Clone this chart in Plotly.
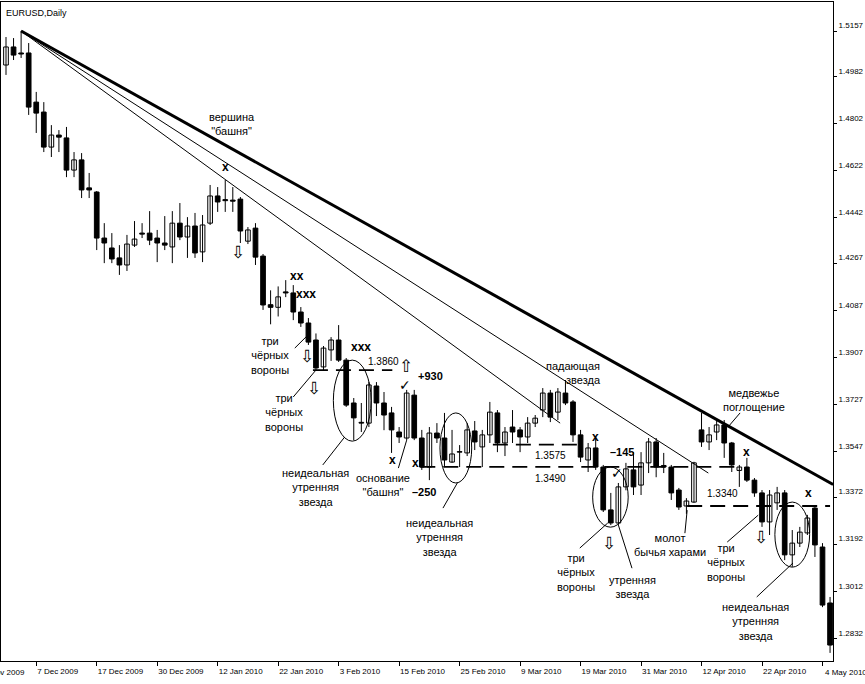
import plotly.graph_objects as go
import pandas as pd

# ---------------- data ----------------
holidays = ["2009-12-25", "2010-01-01"]
dates = [d for d in pd.bdate_range("2009-12-01", "2010-05-05")
         if d.strftime("%Y-%m-%d") not in holidays]

open_ = [1.5027, 1.5096, 1.5073, 1.5073, 1.4885, 1.4847, 1.4713, 1.4759, 1.4748, 1.4625,
         1.4664, 1.4557, 1.4541, 1.4365, 1.4327, 1.4289, 1.4262, 1.4338, 1.4384, 1.4384,
         1.4365, 1.4346, 1.4331, 1.4422, 1.4369, 1.4411, 1.4312, 1.4422, 1.4526, 1.4512,
         1.4510, 1.4514, 1.4353, 1.4403, 1.4296, 1.4110, 1.4100, 1.4159, 1.4155, 1.4082,
         1.4040, 1.3975, 1.3872, 1.3937, 1.3975, 1.3898, 1.3734, 1.3660, 1.3657, 1.3799,
         1.3734, 1.3696, 1.3623, 1.3600, 1.3764, 1.3600, 1.3489, 1.3619, 1.3600, 1.3508,
         1.3548, 1.3543, 1.3627, 1.3566, 1.3612, 1.3696, 1.3581, 1.3642, 1.3631, 1.3604,
         1.3657, 1.3707, 1.3772, 1.3699, 1.3772, 1.3738, 1.3612, 1.3516, 1.3562, 1.3489,
         1.3325, 1.3275, 1.3413, 1.3478, 1.3420, 1.3505, 1.3585, 1.3495, 1.3489, 1.3401,
         1.3340, 1.3355, 1.3631, 1.3585, 1.3623, 1.3650, 1.3581, 1.3476, 1.3489, 1.3439,
         1.3390, 1.3279, 1.3352, 1.3390, 1.3153, 1.3198, 1.3237, 1.3332, 1.3183, 1.2969]
high = [1.5134, 1.5130, 1.5157, 1.5111, 1.4924, 1.4885, 1.4797, 1.4778, 1.4790, 1.4694,
        1.4690, 1.4614, 1.4545, 1.4422, 1.4384, 1.4338, 1.4377, 1.4430, 1.4422, 1.4468,
        1.4396, 1.4449, 1.4468, 1.4499, 1.4445, 1.4461, 1.4453, 1.4568, 1.4560, 1.4587,
        1.4560, 1.4522, 1.4407, 1.4422, 1.4304, 1.4165, 1.4180, 1.4204, 1.4185, 1.4101,
        1.4059, 1.4000, 1.3952, 1.3986, 1.4032, 1.3906, 1.3753, 1.3734, 1.3814, 1.3814,
        1.3776, 1.3719, 1.3642, 1.3784, 1.3784, 1.3631, 1.3642, 1.3657, 1.3696, 1.3631,
        1.3573, 1.3657, 1.3665, 1.3631, 1.3738, 1.3707, 1.3642, 1.3707, 1.3642, 1.3680,
        1.3688, 1.3791, 1.3784, 1.3791, 1.3822, 1.3745, 1.3631, 1.3581, 1.3604, 1.3497,
        1.3390, 1.3428, 1.3505, 1.3546, 1.3546, 1.3600, 1.3600, 1.3543, 1.3497, 1.3409,
        1.3370, 1.3509, 1.3696, 1.3642, 1.3669, 1.3669, 1.3585, 1.3497, 1.3524, 1.3447,
        1.3401, 1.3401, 1.3413, 1.3401, 1.3248, 1.3260, 1.3306, 1.3336, 1.3198, 1.2992]
low = [1.4989, 1.5046, 1.5054, 1.4836, 1.4767, 1.4694, 1.4675, 1.4694, 1.4598, 1.4598,
       1.4518, 1.4518, 1.4319, 1.4269, 1.4269, 1.4224, 1.4239, 1.4331, 1.4365, 1.4338,
       1.4273, 1.4319, 1.4269, 1.4357, 1.4289, 1.4289, 1.4273, 1.4415, 1.4465, 1.4465,
       1.4465, 1.4346, 1.4342, 1.4262, 1.4090, 1.4035, 1.4065, 1.4139, 1.4051, 1.4025,
       1.3956, 1.3860, 1.3860, 1.3895, 1.3891, 1.3719, 1.3592, 1.3623, 1.3642, 1.3684,
       1.3630, 1.3543, 1.3581, 1.3592, 1.3592, 1.3478, 1.3439, 1.3581, 1.3493, 1.3505,
       1.3489, 1.3531, 1.3554, 1.3489, 1.3581, 1.3546, 1.3531, 1.3581, 1.3546, 1.3581,
       1.3642, 1.3680, 1.3661, 1.3669, 1.3726, 1.3585, 1.3508, 1.3470, 1.3478, 1.3317,
       1.3267, 1.3267, 1.3400, 1.3382, 1.3382, 1.3466, 1.3450, 1.3466, 1.3363, 1.3325,
       1.3310, 1.3352, 1.3566, 1.3554, 1.3592, 1.3524, 1.3470, 1.3413, 1.3432, 1.3375,
       1.3260, 1.3229, 1.3325, 1.3133, 1.3107, 1.3183, 1.3229, 1.3145, 1.2953, 1.2778]
close = [1.5096, 1.5065, 1.5069, 1.4866, 1.4843, 1.4713, 1.4759, 1.4751, 1.4625, 1.4664,
         1.4549, 1.4549, 1.4365, 1.4346, 1.4285, 1.4262, 1.4342, 1.4361, 1.4380, 1.4357,
         1.4346, 1.4338, 1.4422, 1.4369, 1.4411, 1.4308, 1.4415, 1.4526, 1.4503, 1.4508,
         1.4506, 1.4392, 1.4396, 1.4292, 1.4109, 1.4100, 1.4140, 1.4155, 1.4082, 1.4040,
         1.3967, 1.3868, 1.3944, 1.3975, 1.3898, 1.3726, 1.3677, 1.3657, 1.3803, 1.3734,
         1.3688, 1.3631, 1.3604, 1.3772, 1.3600, 1.3489, 1.3619, 1.3600, 1.3516, 1.3539,
         1.3546, 1.3631, 1.3585, 1.3612, 1.3699, 1.3581, 1.3623, 1.3623, 1.3604, 1.3657,
         1.3676, 1.3772, 1.3680, 1.3776, 1.3734, 1.3612, 1.3527, 1.3562, 1.3489, 1.3325,
         1.3275, 1.3413, 1.3482, 1.3413, 1.3505, 1.3585, 1.3489, 1.3489, 1.3390, 1.3336,
         1.3359, 1.3505, 1.3585, 1.3612, 1.3650, 1.3581, 1.3497, 1.3489, 1.3439, 1.3390,
         1.3279, 1.3382, 1.3390, 1.3153, 1.3198, 1.3240, 1.3294, 1.3191, 1.2961, 1.2808]

price_ticks = [1.5157, 1.4982, 1.4802, 1.4622, 1.4442, 1.4267, 1.4087,
               1.3907, 1.3727, 1.3547, 1.3372, 1.3192, 1.3012, 1.2832]

# first (partly hidden) date label, 4 bars before the data start
lead_label = "25 Nov 2009"
lead_label_x = -4

# trend lines (bar index, price)
trend_main_x = [2, 109.4]
trend_main_y = [1.5157, 1.3422]
trend_a_x = [2, 92.9]
trend_a_y = [1.5157, 1.3466]
trend_b_x = [2, 73.3]
trend_b_y = [1.5157, 1.3657]

# horizontal levels
level_values = [1.3860, 1.3575, 1.3490, 1.3340]
level_from = [40.6, 64.4, 54.8, 90.1]
level_to = [51.1, 75.7, 97.1, 109.0]
level_text_x = [49.9, 72.0, 72.0, 94.8]
level_text_y = [1.3891, 1.3535, 1.3447, 1.3389]

# pattern labels
label_text = ["вершина<br>\"башня\"",
              "три<br>чёрных<br>вороны",
              "три<br>чёрных<br>вороны",
              "неидеальная<br>утренняя<br>звезда",
              "основание<br>\"башня\"",
              "неидеальная<br>утренняя<br>звезда",
              "три<br>чёрных<br>вороны",
              "утренняя<br>звезда",
              "молот<br>бычья харами",
              "медвежье<br>поглощение",
              "три<br>чёрных<br>вороны",
              "неидеальная<br>утренняя<br>звезда"]
label_x = [29.9, 34.9, 36.8, 40.9, 49.9, 57.4, 75.4, 82.9, 87.8, 98.9, 95.2, 99.1]
label_y = [1.4801, 1.3914, 1.3699, 1.3412, 1.3420, 1.3221, 1.3087, 1.3030,
           1.3190, 1.3745, 1.3122, 1.2900]
star_text = "падающая<br>звезда"
star_x, star_y = 79.0, 1.3849

bold_text = ["+930", "–250", "–145"]
bold_x = [56.1, 55.3, 81.5]
bold_y = [1.3837, 1.3393, 1.3546]

cross_text = ["x", "xx", "xxx", "xxx", "x", "x", "x", "x", "x"]
cross_x = [29.0, 38.5, 39.7, 47.0, 51.1, 54.1, 78.0, 98.0, 106.1]
cross_y = [1.4637, 1.4220, 1.4151, 1.3948, 1.3516, 1.3504, 1.3604, 1.3546, 1.3390]

down_x = [30.7, 39.8, 40.7, 79.8, 99.9]
down_y = [1.4311, 1.3914, 1.3791, 1.3198, 1.3221]
up_x = [52.9]
up_y = [1.3875]
check_x = [52.8, 80.8]
check_y = [1.3803, 1.3466]

# leader lines (x0, y0, x1, y1)
leaders = [(38.2, 1.3944, 39.8, 1.3990),
           (38.0, 1.3757, 41.0, 1.3860),
           (41.9, 1.3497, 44.8, 1.3604),
           (51.9, 1.3485, 53.0, 1.3592),
           (57.8, 1.3332, 59.7, 1.3428),
           (75.9, 1.3179, 79.6, 1.3275),
           (82.8, 1.3102, 81.0, 1.3267),
           (89.8, 1.3236, 90.1, 1.3324),
           (95.4, 1.3202, 99.5, 1.3305),
           (97.1, 1.3696, 95.5, 1.3642),
           (99.3, 1.2992, 104.1, 1.3122)]

# ellipses (x0, x1, y0, y1)
ellipses = [(43.3, 48.3, 1.3588, 1.3898),
            (57.4, 61.6, 1.3428, 1.3696),
            (77.6, 82.3, 1.3259, 1.3489),
            (101.7, 106.3, 1.3106, 1.3355)]

# ---------------- figure ----------------
FONT = "Liberation Sans, Arial, sans-serif"
n = len(close)
idx = list(range(n))
x_range = [-0.661, 109.39]

fig = go.Figure()

wx, wy = [], []
for i in idx:
    wx += [i, i, None]
    wy += [low[i], high[i], None]
fig.add_trace(go.Scatter(x=wx, y=wy, mode="lines",
                         line=dict(color="black", width=1), hoverinfo="skip"))

bull = [i for i in idx if close[i] >= open_[i]]
bear = [i for i in idx if close[i] < open_[i]]
fig.add_trace(go.Bar(x=bull, base=[open_[i] for i in bull],
                     y=[close[i] - open_[i] for i in bull], width=0.62,
                     marker=dict(color="white", line=dict(color="black", width=1))))
fig.add_trace(go.Bar(x=bear, base=[close[i] for i in bear],
                     y=[open_[i] - close[i] for i in bear], width=0.62,
                     marker=dict(color="black", line=dict(color="black", width=1))))

fig.add_trace(go.Scatter(x=trend_main_x, y=trend_main_y, mode="lines",
                         line=dict(color="black", width=3)))
fig.add_trace(go.Scatter(x=trend_a_x, y=trend_a_y, mode="lines",
                         line=dict(color="black", width=1)))
fig.add_trace(go.Scatter(x=trend_b_x, y=trend_b_y, mode="lines",
                         line=dict(color="black", width=1)))

for v, a, b in zip(level_values, level_from, level_to):
    fig.add_trace(go.Scatter(x=[a, b], y=[v, v], mode="lines",
                             line=dict(color="black", width=1.8, dash="15px,8px")))

for v, xx, yy in zip(level_values, level_text_x, level_text_y):
    fig.add_annotation(x=xx, y=yy, text=f"{v:.4f}", showarrow=False,
                       font=dict(family=FONT, size=10, color="black"))

for t, xx, yy in zip(label_text, label_x, label_y):
    fig.add_annotation(x=xx, y=yy, text=t, showarrow=False,
                       font=dict(family=FONT, size=11, color="black"))
fig.add_annotation(x=star_x, y=star_y, text=star_text, showarrow=False,
                   xanchor="right", align="right",
                   font=dict(family=FONT, size=11, color="black"))

for t, xx, yy in zip(bold_text, bold_x, bold_y):
    fig.add_annotation(x=xx, y=yy, text=f"<b>{t}</b>", showarrow=False,
                       font=dict(family=FONT, size=11, color="black"))
for t, xx, yy in zip(cross_text, cross_x, cross_y):
    fig.add_annotation(x=xx, y=yy, text=f"<b>{t}</b>", showarrow=False,
                       font=dict(family=FONT, size=12, color="black"))
for xx, yy in zip(down_x, down_y):
    fig.add_annotation(x=xx, y=yy, text="⇩", showarrow=False,
                       font=dict(family="DejaVu Sans", size=17, color="black"))
for xx, yy in zip(up_x, up_y):
    fig.add_annotation(x=xx, y=yy, text="⇧", showarrow=False,
                       font=dict(family="DejaVu Sans", size=17, color="black"))
for xx, yy in zip(check_x, check_y):
    fig.add_annotation(x=xx, y=yy, text="✓", showarrow=False,
                       font=dict(family="DejaVu Sans", size=14, color="black"))

for x0, y0, x1, y1 in leaders:
    fig.add_shape(type="line", x0=x0, y0=y0, x1=x1, y1=y1,
                  line=dict(color="black", width=1))
for x0, x1, y0, y1 in ellipses:
    fig.add_shape(type="circle", x0=x0, x1=x1, y0=y0, y1=y1,
                  line=dict(color="black", width=1))

fig.add_annotation(xref="paper", yref="paper", x=0, y=1, xanchor="left", yanchor="top",
                   xshift=3, yshift=-4, text="EURUSD,Daily", showarrow=False,
                   font=dict(family=FONT, size=9, color="black"))

tick_idx = list(range(4, n, 8))
tick_text = [f"{dates[i].day} {dates[i].strftime('%b %Y')}" for i in tick_idx]


def to_paper(xv):
    return (xv - x_range[0]) / (x_range[1] - x_range[0])


# date labels that sit partly outside the plot area are drawn as annotations
edge_labels = [(lead_label_x, lead_label), (tick_idx[-1], tick_text[-1])]
for xv, t in edge_labels:
    fig.add_annotation(xref="paper", yref="paper", x=to_paper(xv), y=0,
                       xanchor="left", yanchor="top", xshift=1, yshift=-5,
                       text=t, showarrow=False,
                       font=dict(family=FONT, size=8, color="black"))
axis_text = tick_text[:-1] + [""]

fig.update_layout(
    width=865, height=684,
    margin=dict(l=1, r=32, t=2, b=23, autoexpand=False),
    plot_bgcolor="white", paper_bgcolor="white",
    showlegend=False, barmode="overlay", hovermode=False,
    xaxis=dict(range=x_range, tickvals=tick_idx, ticktext=axis_text,
               ticks="outside", ticklen=4, tickcolor="black",
               ticklabelposition="outside right", ticklabelstandoff=2,
               tickfont=dict(family=FONT, size=8, color="black"),
               showgrid=False, zeroline=False, showline=True, linecolor="black",
               linewidth=1, mirror=True),
    yaxis=dict(range=[1.2747, 1.5268], side="right", tickvals=price_ticks,
               ticktext=[f"{v:.4f}" for v in price_ticks],
               ticks="outside", ticklen=3, tickcolor="black", ticklabelshift=-6,
               tickfont=dict(family=FONT, size=8, color="black"),
               showgrid=False, zeroline=False, showline=True, linecolor="black",
               linewidth=1, mirror=True),
)

fig.write_html("out.html", config={"displayModeBar": False, "staticPlot": True},
               post_script="document.body.style.margin='0px';document.body.style.overflow='hidden';")
